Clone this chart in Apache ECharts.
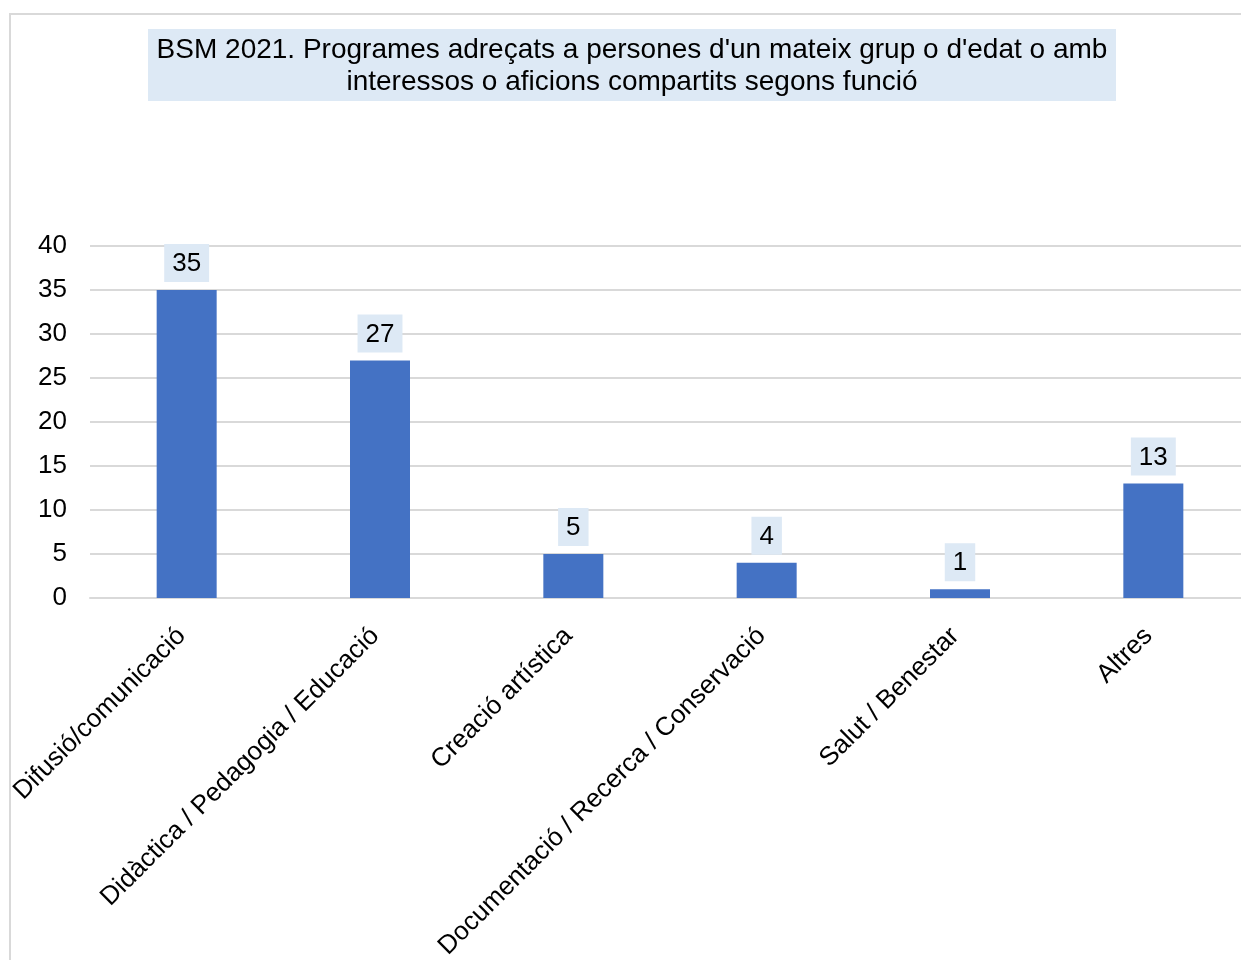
<!DOCTYPE html>
<html><head><meta charset="utf-8">
<script src="https://cdn.jsdelivr.net/npm/echarts@6/dist/echarts.min.js"></script>
<style>html,body{margin:0;padding:0;background:#fff;overflow:hidden;width:1241px;height:960px;}#c{width:1250px;height:960px;}</style>
</head><body><div id="c"></div>
<script>
const titleLines = ["BSM 2021. Programes adreçats a persones d'un mateix grup o d'edat o amb", "interessos o aficions compartits segons funció"];
const categories = ["Difusió/comunicació", "Didàctica / Pedagogia / Educació", "Creació artística", "Documentació / Recerca / Conservació", "Salut / Benestar", "Altres"];
const values = [35, 27, 5, 4, 1, 13];
const yTicks = {min: 0, max: 40, interval: 5};

const chart = echarts.init(document.getElementById('c'));
chart.setOption({
  animation: false,
  textStyle: {fontFamily: 'Liberation Sans, Arial, sans-serif'},
  graphic: [
    {type: 'rect', shape: {x: 10, y: 14, width: 1300, height: 1000}, style: {fill: 'none', stroke: '#d9d9d9', lineWidth: 2}, z: -10},
    {type: 'rect', shape: {x: 148, y: 29, width: 968, height: 72}, style: {fill: '#dde9f5'}, z: 1},
    {type: 'text', x: 632, y: 66, style: {text: titleLines.join('\n'), font: '28px "Liberation Sans", Arial, sans-serif', fill: '#000', textAlign: 'center', textVerticalAlign: 'middle', lineHeight: 32}, z: 2}
  ],
  grid: {left: 90, top: 246, right: 0, height: 352, containLabel: false, outerBoundsMode: 'none'},
  xAxis: {
    type: 'category', data: categories,
    axisLine: {show: true, lineStyle: {color: '#d9d9d9', width: 2}},
    axisTick: {show: false},
    axisLabel: {rotate: 45, fontSize: 26, color: '#000', margin: 29, padding: [0, 7, 0, 0], interval: 0}
  },
  yAxis: {
    type: 'value', min: yTicks.min, max: yTicks.max, interval: yTicks.interval,
    axisLine: {show: false}, axisTick: {show: false},
    axisLabel: {fontSize: 26, color: '#000', margin: 23},
    splitLine: {lineStyle: {color: '#d9d9d9', width: 2}}
  },
  series: [{
    type: 'bar', data: values, barWidth: 60,
    itemStyle: {color: '#4472c4'},
    label: {show: true, position: 'top', distance: 8, fontSize: 26, color: '#000', backgroundColor: '#dde9f5', padding: [7, 8, 5, 8]}
  }]
});
</script></body></html>
